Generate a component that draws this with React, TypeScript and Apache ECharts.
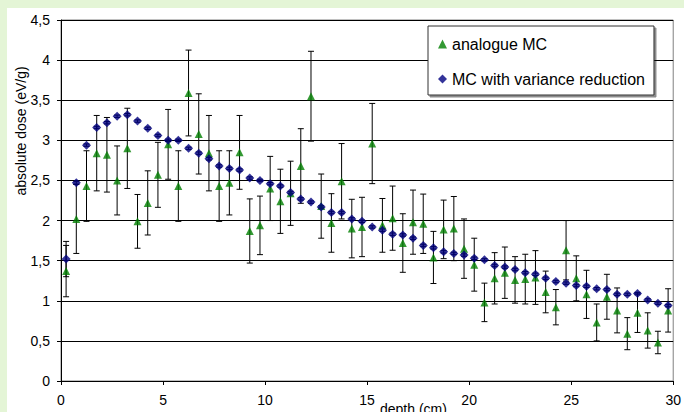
import React, { useEffect, useRef } from "react";
import * as echarts from "echarts";

const depth = [
  0.25, 0.75, 1.25, 1.75, 2.25, 2.75, 3.25, 3.75, 4.25, 4.75,
  5.25, 5.75, 6.25, 6.75, 7.25, 7.75, 8.25, 8.75, 9.25, 9.75,
  10.25, 10.75, 11.25, 11.75, 12.25, 12.75, 13.25, 13.75, 14.25, 14.75,
  15.25, 15.75, 16.25, 16.75, 17.25, 17.75, 18.25, 18.75, 19.25, 19.75,
  20.25, 20.75, 21.25, 21.75, 22.25, 22.75, 23.25, 23.75, 24.25, 24.75,
  25.25, 25.75, 26.25, 26.75, 27.25, 27.75, 28.25, 28.75, 29.25, 29.75,
];

const analogue = [
  1.37, 2.02, 2.43, 2.84, 2.82, 2.5, 2.9, 1.99, 2.22, 2.57,
  2.95, 2.43, 3.59, 3.08, 2.84, 2.43, 2.47, 2.85, 1.87, 1.94,
  2.4, 2.24, 2.34, 2.68, 3.55, 2.18, 1.97, 2.49, 1.9, 1.92,
  2.96, 1.94, 2.03, 1.72, 1.98, 1.96, 1.54, 1.89, 1.9, 1.65,
  1.45, 0.98, 1.28, 1.35, 1.26, 1.27, 1.29, 1.11, 0.92, 1.63,
  1.28, 1.08, 0.73, 1.05, 0.88, 0.59, 0.85, 0.63, 0.48, 0.88,
];

const analogueErr = [
  0.32, 0.43, 0.44, 0.47, 0.465, 0.43, 0.5, 0.335, 0.4, 0.405,
  0.435, 0.44, 0.535, 0.5, 0.47, 0.44, 0.4, 0.46, 0.4, 0.365,
  0.4, 0.4, 0.4, 0.465, 0.56, 0.4, 0.365, 0.47, 0.365, 0.37,
  0.5, 0.335, 0.4, 0.365, 0.4, 0.37, 0.325, 0.365, 0.4, 0.37,
  0.33, 0.24, 0.32, 0.32, 0.29, 0.31, 0.335, 0.26, 0.22, 0.37,
  0.28, 0.3, 0.23, 0.28, 0.28, 0.2, 0.245, 0.22, 0.14, 0.27,
];

const reduced = [
  1.52, 2.47, 2.94, 3.16, 3.22, 3.3, 3.32, 3.24, 3.15, 3.06,
  3.0, 3.0, 2.9, 2.84, 2.77, 2.68, 2.65, 2.63, 2.53, 2.5,
  2.46, 2.43, 2.35, 2.27, 2.23, 2.17, 2.1, 2.1, 2.02, 1.99,
  1.92, 1.88, 1.83, 1.82, 1.78, 1.69, 1.66, 1.61, 1.59, 1.57,
  1.53, 1.51, 1.44, 1.42, 1.39, 1.35, 1.33, 1.28, 1.24, 1.22,
  1.19, 1.18, 1.15, 1.14, 1.08, 1.08, 1.09, 1.01, 0.97, 0.94,
];

const reducedErr = [
  0.22, 0.015, 0.015, 0.015, 0.015, 0.015, 0.015, 0.015, 0.015, 0.015,
  0.015, 0.015, 0.015, 0.015, 0.015, 0.015, 0.015, 0.015, 0.015, 0.015,
  0.015, 0.015, 0.015, 0.015, 0.015, 0.015, 0.015, 0.015, 0.015, 0.015,
  0.015, 0.015, 0.015, 0.015, 0.015, 0.015, 0.015, 0.015, 0.015, 0.015,
  0.015, 0.015, 0.015, 0.015, 0.015, 0.015, 0.015, 0.015, 0.015, 0.015,
  0.015, 0.015, 0.015, 0.015, 0.015, 0.015, 0.015, 0.015, 0.015, 0.015,
];

const FONT = "'Liberation Sans', Arial, sans-serif";

function errorBarRender(params: any, api: any) {
  const x = api.value(0);
  const y = api.value(1);
  const e = api.value(2);
  const top = api.coord([x, y + e]);
  const bot = api.coord([x, y - e]);
  const hw = 3;
  const style = { stroke: "#000", lineWidth: 1 };
  return {
    type: "group",
    children: [
      { type: "line", shape: { x1: top[0], y1: top[1], x2: bot[0], y2: bot[1] }, style },
      { type: "line", shape: { x1: top[0] - hw, y1: top[1], x2: top[0] + hw, y2: top[1] }, style },
      { type: "line", shape: { x1: bot[0] - hw, y1: bot[1], x2: bot[0] + hw, y2: bot[1] }, style },
    ],
  };
}

export default function App() {
  const ref = useRef<HTMLDivElement>(null);
  useEffect(() => {
    if (!ref.current) return;
    const chart = echarts.init(ref.current, null, { renderer: "svg" });
    const errData = [
      ...depth.map((d, i) => [d, analogue[i], analogueErr[i]]),
      ...depth.map((d, i) => [d, reduced[i], reducedErr[i]]),
    ];
    chart.setOption({
      animation: false,
      backgroundColor: "transparent",
      textStyle: { fontFamily: FONT },
      grid: {
        left: 61,
        top: 20,
        right: 10,
        bottom: 31,
        show: true,
        borderColor: "#808080",
        borderWidth: 1,
        backgroundColor: "#fff",
      },
      legend: {
        orient: "vertical",
        left: 428,
        top: 26,
        padding: [10, 9, 8, 10],
        itemWidth: 9,
        itemHeight: 9,
        itemGap: 19,
        backgroundColor: "#fff",
        borderColor: "#303030",
        borderWidth: 1,
        borderRadius: 0,
        shadowColor: "rgba(0,0,0,0.45)",
        shadowOffsetX: 2,
        shadowOffsetY: 2,
        shadowBlur: 0,
        textStyle: { fontSize: 16, color: "#000", fontFamily: FONT },
        data: [
          { name: "analogue MC", icon: "triangle" },
          { name: "MC with variance reduction", icon: "diamond" },
        ],
      },
      xAxis: {
        type: "value",
        min: 0,
        max: 30,
        interval: 5,
        axisLine: { show: true, lineStyle: { color: "#000", width: 1 } },
        axisTick: { show: true, length: 4, lineStyle: { color: "#000" } },
        axisLabel: { fontSize: 14, color: "#000", margin: 12, fontFamily: FONT },
        splitLine: { show: false },
      },
      yAxis: {
        type: "value",
        min: 0,
        max: 4.5,
        interval: 0.5,
        axisLine: { show: true, lineStyle: { color: "#000", width: 1 } },
        axisTick: { show: true, length: 4, lineStyle: { color: "#000" } },
        axisLabel: {
          fontSize: 14,
          color: "#000",
          margin: 11,
          fontFamily: FONT,
          formatter: (v: number) => String(v).replace(".", ","),
        },
        splitLine: { show: true, lineStyle: { color: "#000", width: 1 } },
      },
      graphic: [
        {
          type: "text",
          x: 380,
          y: 402,
          style: { text: "depth (cm)", fill: "#000", font: `14px ${FONT}`, textVerticalAlign: "top" },
        },
        {
          type: "text",
          x: 21,
          y: 131,
          rotation: Math.PI / 2,
          style: {
            text: "absolute dose (eV/g)",
            fill: "#000",
            font: `14px ${FONT}`,
            textAlign: "center",
            textVerticalAlign: "middle",
          },
        },
      ],
      series: [
        {
          type: "custom",
          name: "errors",
          renderItem: errorBarRender,
          data: errData,
          encode: { x: 0, y: 1 },
          z: 1,
          silent: true,
        },
        {
          type: "scatter",
          name: "analogue MC",
          symbol: "triangle",
          symbolSize: 8,
          itemStyle: { color: "#008000" },
          data: depth.map((d, i) => [d, analogue[i]]),
          z: 2,
        },
        {
          type: "scatter",
          name: "MC with variance reduction",
          symbol: "diamond",
          symbolSize: 9,
          itemStyle: { color: "#000080" },
          data: depth.map((d, i) => [d, reduced[i]]),
          z: 3,
        },
      ],
    });
    return () => chart.dispose();
  }, []);

  return (
    <div style={{ position: "fixed", left: 0, top: 0, width: 684, height: 412, background: "#E4F5D6", overflow: "hidden" }}>
      <div style={{ position: "absolute", left: 7, top: 8, width: 677, height: 404, background: "#fff" }} />
      <div ref={ref} style={{ position: "absolute", left: 0, top: 0, width: 684, height: 412 }} />
    </div>
  );
}
